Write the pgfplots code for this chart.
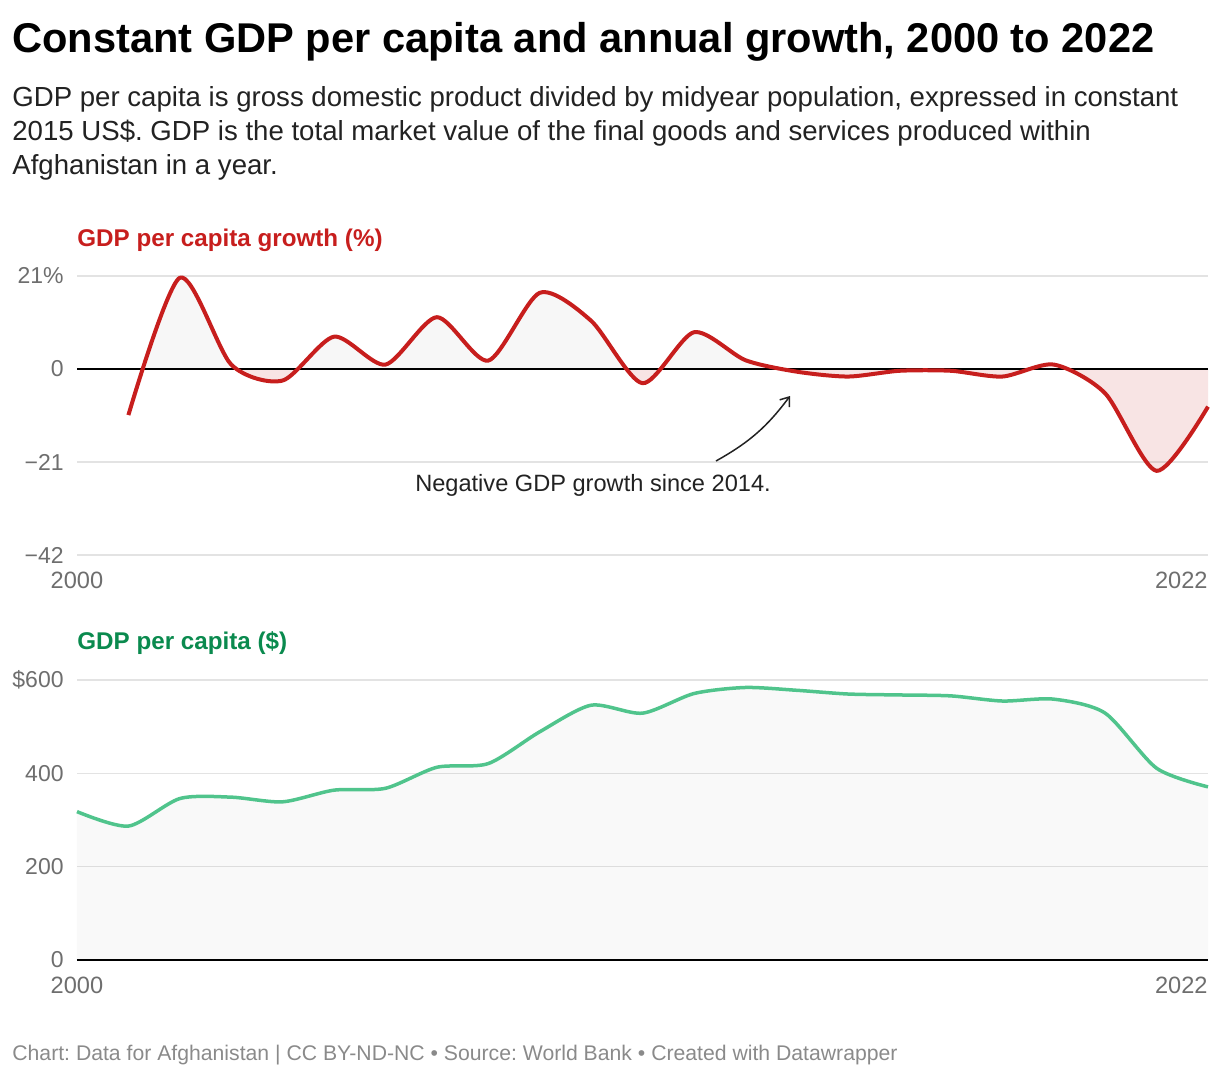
\documentclass[border=0pt]{standalone}
\usepackage{fontspec}
\setmainfont{Liberation Sans}
\usepackage{pgfplots}
\usepackage{pgfplotstable}
\pgfplotsset{compat=1.18}
\usepgfplotslibrary{fillbetween}
\usetikzlibrary{arrows.meta}
\frenchspacing

\definecolor{redline}{HTML}{C71E1D}
\definecolor{greenline}{HTML}{50C48C}
\definecolor{greentitle}{HTML}{0A8A4E}
\definecolor{tickgray}{HTML}{6E6E6E}
\definecolor{gridgray}{HTML}{E3E3E3}
\definecolor{footgray}{HTML}{8A8A8A}
\definecolor{textdark}{HTML}{222222}

\pgfplotstableread{
year growth
2001 -10.4
2002 20.6
2003 1.0
2004 -2.6
2005 7.3
2006 1.0
2007 11.7
2008 1.9
2009 17.2
2010 10.9
2011 -3.2
2012 8.3
2013 2.0
2014 -0.6
2015 -1.7
2016 -0.4
2017 -0.4
2018 -1.7
2019 1.0
2020 -5.5
2021 -23.0
2022 -8.5
}\growth

\pgfplotstableread{
year gdp
2000 318
2001 287
2002 346
2003 349
2004 339
2005 364
2006 368
2007 413
2008 421
2009 489
2010 546
2011 529
2012 571
2013 584
2014 578
2015 570
2016 568
2017 566
2018 555
2019 559
2020 529
2021 411
2022 371
}\gdp

\pgfplotsset{dw/.style={
  scale only axis, width=565.5pt, xmin=2000, xmax=2022,
  axis line style={draw=none}, xtick=\empty, major tick length=0pt,
  ymajorgrids, grid style={gridgray, line width=0.75pt},
  yticklabel style={font=\fontsize{11.5}{13}\selectfont, text=tickgray, anchor=east, inner sep=0pt, xshift=-6.5pt},
  clip=false}}

\begin{document}
\begin{tikzpicture}
\path (0,0) rectangle (610pt,-538pt);

\begin{axis}[dw, at={(38.5pt,-277.5pt)}, anchor=south west, height=139.5pt,
  ymin=-42, ymax=21, ytick={-42,-21,0,21}, yticklabels={−42,−21,0,21\%}]
\addplot[draw=none, name path=g, smooth, tension=0.45] table[x=year,y=growth]{\growth};
\addplot[draw=none, name path=z] coordinates {(2001,0) (2022,0)};
\addplot[fill=black, fill opacity=0.03, draw=none] fill between[of=g and z, soft clip={(axis cs:2000,0) rectangle (axis cs:2022,25)}];
\addplot[fill=redline, fill opacity=0.12, draw=none] fill between[of=g and z, soft clip={(axis cs:2000,-30) rectangle (axis cs:2022,0)}];
\draw[black, line width=1pt] (axis cs:2000,0) -- (axis cs:2022,0);
\addplot[redline, line width=2pt, smooth, tension=0.45] table[x=year,y=growth]{\growth};
\node[anchor=north, inner sep=0pt, yshift=-8.5pt, font=\fontsize{11.8}{13}\selectfont, text=tickgray] at (rel axis cs:0,0) {2000};
\node[anchor=north east, inner sep=0pt, yshift=-8.5pt, font=\fontsize{11.8}{13}\selectfont, text=tickgray] at (rel axis cs:1,0) {2022};
\end{axis}

\begin{axis}[dw, at={(38.5pt,-480pt)}, anchor=south west, height=140pt,
  ymin=0, ymax=600, ytick={0,200,400,600}, yticklabels={0,200,400,\$600}]
\addplot[draw=none, fill=black, fill opacity=0.025, smooth, tension=0.45] table[x=year,y=gdp]{\gdp} \closedcycle;
\addplot[greenline, line width=1.75pt, smooth, tension=0.45] table[x=year,y=gdp]{\gdp};
\draw[black, line width=1pt] (axis cs:2000,0) -- (axis cs:2022,0);
\node[anchor=north, inner sep=0pt, yshift=-8.5pt, font=\fontsize{11.8}{13}\selectfont, text=tickgray] at (rel axis cs:0,0) {2000};
\node[anchor=north east, inner sep=0pt, yshift=-8.5pt, font=\fontsize{11.8}{13}\selectfont, text=tickgray] at (rel axis cs:1,0) {2022};
\end{axis}

\begin{scope}[x=0.5pt, y=-0.5pt]
\node[anchor=base west, inner sep=0pt, font=\bfseries\fontsize{20.8}{24}\selectfont, text=black] at (12,52) {Constant GDP per capita and annual growth, 2000 to 2022};
\node[anchor=base west, inner sep=0pt, font=\fontsize{13.8}{16}\selectfont, text=textdark] at (12,106) {GDP per capita is gross domestic product divided by midyear population, expressed in constant};
\node[anchor=base west, inner sep=0pt, font=\fontsize{13.8}{16}\selectfont, text=textdark] at (12,140) {2015 US\$. GDP is the total market value of the final goods and services produced within};
\node[anchor=base west, inner sep=0pt, font=\fontsize{13.8}{16}\selectfont, text=textdark] at (12,174) {Afghanistan in a year.};
\node[anchor=base west, inner sep=0pt, font=\bfseries\fontsize{12.1}{14}\selectfont, text=redline] at (77,246) {GDP per capita growth (\%)};
\node[anchor=base west, inner sep=0pt, font=\bfseries\fontsize{12.1}{14}\selectfont, text=greentitle] at (77,649) {GDP per capita (\$)};
\node[anchor=base, inner sep=0pt, font=\fontsize{11.8}{13}\selectfont, text=textdark] at (593,491) {Negative GDP growth since 2014.};
\draw[textdark, line width=0.75pt, -{Straight Barb[length=4pt, width=6pt]}] (716,461) to[bend right=12] (790,396);
\node[anchor=base west, inner sep=0pt, font=\fontsize{10.6}{12}\selectfont, text=footgray] at (12,1060) {Chart: Data for Afghanistan | CC BY-ND-NC • Source: World Bank • Created with Datawrapper};
\end{scope}
\end{tikzpicture}
\end{document}
